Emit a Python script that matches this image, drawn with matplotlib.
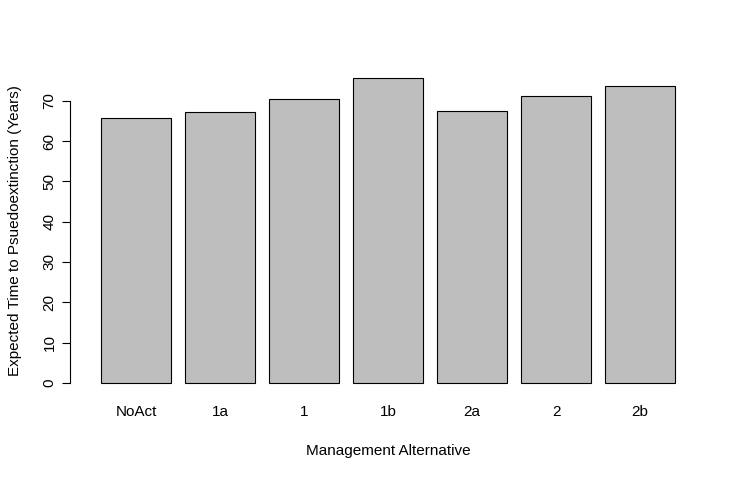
import matplotlib.pyplot as plt

plt.rcParams['font.family'] = ['Liberation Sans', 'DejaVu Sans']

alternatives = ["NoAct", "1a", "1", "1b", "2a", "2", "2b"]
expected_time = [65.8, 67.2, 70.4, 75.6, 67.4, 71.1, 73.7]

fig = plt.figure(figsize=(7.36, 4.84), dpi=100)
ax = fig.add_axes([78 / 736, 89 / 484, 620 / 736, 329 / 484])

pos = [0.7 + 1.2 * i for i in range(len(alternatives))]
ax.bar(pos, expected_time, width=1, color="#bebebe", edgecolor="black", linewidth=0.8)

ax.set_xlim(-0.128, 8.728)
top = max(expected_time)
ax.set_ylim(-0.04 * top, 1.04 * top)

for s in ["top", "right", "bottom"]:
    ax.spines[s].set_visible(False)
ax.spines["left"].set_position(("outward", 6))
ax.spines["left"].set_bounds(0, 70)
ax.set_yticks(range(0, 71, 10))
ax.set_yticklabels([str(v) for v in range(0, 71, 10)], rotation=90, va="center", fontsize=11)
ax.tick_params(axis="y", length=6)
ax.set_xticks(pos)
ax.set_xticklabels(alternatives, fontsize=11)
ax.tick_params(axis="x", length=0, pad=7)

ax.set_xlabel("Management Alternative", fontsize=11, labelpad=18)
ax.set_ylabel("Expected Time to Psuedoextinction (Years)", fontsize=11, labelpad=15)

fig.savefig("out.png", dpi=100)
